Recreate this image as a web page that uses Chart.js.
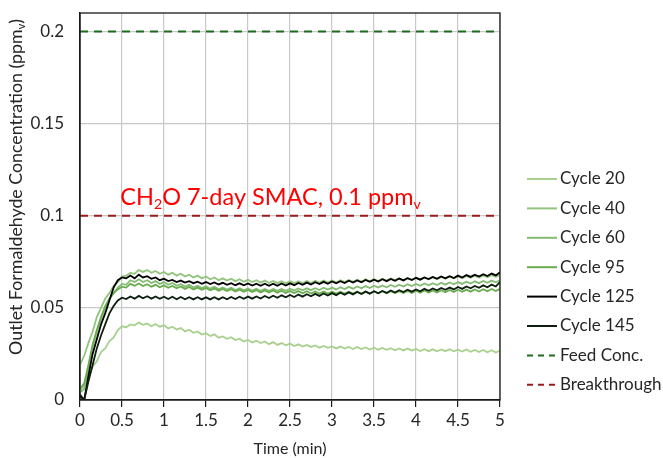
<!DOCTYPE html>
<html>
<head>
<meta charset="utf-8">
<script src="https://cdn.jsdelivr.net/npm/chart.js@4.4.1/dist/chart.umd.min.js"></script>
<style>
  html, body { margin: 0; padding: 0; background: #fff; }
  #wrap { width: 663px; height: 458px; }
</style>
</head>
<body>
<div id="wrap"><canvas id="breakChart" width="663" height="458"></canvas></div>
<script>
/* Outlet formaldehyde concentration over a 5-minute run, by sorbent cycle */

// sample times (min)
const timeMin = [
  0, 0.05, 0.1, 0.15, 0.2, 0.25, 0.3, 0.35, 0.4, 0.45,
  0.5, 0.55, 0.6, 0.65, 0.7, 0.75, 0.8, 0.85, 0.9, 0.95,
  1, 1.05, 1.1, 1.15, 1.2, 1.25, 1.3, 1.35, 1.4, 1.45,
  1.5, 1.55, 1.6, 1.65, 1.7, 1.75, 1.8, 1.85, 1.9, 1.95,
  2, 2.05, 2.1, 2.15, 2.2, 2.25, 2.3, 2.35, 2.4, 2.45,
  2.5, 2.55, 2.6, 2.65, 2.7, 2.75, 2.8, 2.85, 2.9, 2.95,
  3, 3.05, 3.1, 3.15, 3.2, 3.25, 3.3, 3.35, 3.4, 3.45,
  3.5, 3.55, 3.6, 3.65, 3.7, 3.75, 3.8, 3.85, 3.9, 3.95,
  4, 4.05, 4.1, 4.15, 4.2, 4.25, 4.3, 4.35, 4.4, 4.45,
  4.5, 4.55, 4.6, 4.65, 4.7, 4.75, 4.8, 4.85, 4.9, 4.95,
  5
];

// outlet concentration (ppmv) per cycle
const cycle20 = [
  0.005, 0.008, 0.013, 0.018, 0.021, 0.026, 0.028, 0.032, 0.034, 0.038,
  0.040, 0.0395, 0.041, 0.0405, 0.042, 0.0408, 0.0415, 0.040, 0.0412, 0.0398,
  0.0405, 0.0388, 0.0398, 0.0382, 0.039, 0.0372, 0.0381, 0.0365, 0.0372, 0.0355,
  0.0362, 0.0347, 0.0356, 0.0338, 0.0345, 0.0332, 0.0341, 0.0325, 0.0333, 0.0318,
  0.0326, 0.0312, 0.0322, 0.0309, 0.0318, 0.0303, 0.0314, 0.0299, 0.0309, 0.0297,
  0.0306, 0.0293, 0.0302, 0.029, 0.0299, 0.0288, 0.0296, 0.0284, 0.0293, 0.0283,
  0.0291, 0.028, 0.029, 0.0279, 0.0288, 0.0277, 0.0287, 0.0276, 0.0285, 0.0274,
  0.0284, 0.0273, 0.0282, 0.0272, 0.0281, 0.027, 0.028, 0.0269, 0.0279, 0.0268,
  0.0277, 0.0266, 0.0276, 0.0265, 0.0275, 0.0264, 0.0274, 0.0265, 0.0276, 0.0264,
  0.0273, 0.0263, 0.0274, 0.0262, 0.0272, 0.026, 0.0271, 0.0259, 0.027, 0.0258,
  0.0268
];
const cycle40 = [
  0.019, 0.024, 0.031, 0.037, 0.045, 0.050, 0.055, 0.058, 0.062, 0.064,
  0.067, 0.0675, 0.069, 0.0685, 0.0705, 0.0695, 0.0705, 0.069, 0.070, 0.0685,
  0.0695, 0.068, 0.069, 0.0675, 0.0685, 0.067, 0.068, 0.0665, 0.0675, 0.066,
  0.067, 0.0655, 0.0665, 0.065, 0.066, 0.0648, 0.0658, 0.0645, 0.0655, 0.0642,
  0.0652, 0.064, 0.065, 0.0637, 0.0648, 0.0635, 0.0646, 0.0634, 0.0645, 0.0633,
  0.0644, 0.0634, 0.0645, 0.0633, 0.0646, 0.0635, 0.0647, 0.0636, 0.0648, 0.0637,
  0.0649, 0.0638, 0.065, 0.064, 0.0651, 0.0641, 0.0653, 0.0643, 0.0655, 0.0644,
  0.0656, 0.0646, 0.0658, 0.0647, 0.0659, 0.0649, 0.0661, 0.065, 0.0662, 0.0652,
  0.0664, 0.0653, 0.0665, 0.0655, 0.0667, 0.0657, 0.0668, 0.0658, 0.067, 0.066,
  0.0671, 0.0661, 0.0673, 0.0663, 0.0674, 0.0665, 0.0676, 0.0666, 0.0677, 0.0668,
  0.0678
];
const cycle60 = [
  0.004, 0.006, 0.017, 0.029, 0.037, 0.044, 0.050, 0.055, 0.058, 0.061,
  0.063, 0.0625, 0.065, 0.064, 0.0655, 0.064, 0.065, 0.0635, 0.0645, 0.063,
  0.064, 0.0625, 0.0635, 0.062, 0.063, 0.0615, 0.0625, 0.061, 0.062, 0.0607,
  0.0617, 0.0604, 0.0614, 0.0601, 0.0611, 0.0599, 0.0609, 0.0597, 0.0607, 0.0595,
  0.0605, 0.0594, 0.0604, 0.0593, 0.0603, 0.0592, 0.0603, 0.0592, 0.0603, 0.0593,
  0.0604, 0.0594, 0.0605, 0.0595, 0.0606, 0.0596, 0.0607, 0.0597, 0.0609, 0.0599,
  0.061, 0.06, 0.0612, 0.0602, 0.0614, 0.0604, 0.0616, 0.0606, 0.0618, 0.0608,
  0.062, 0.061, 0.0622, 0.0612, 0.0624, 0.0614, 0.0626, 0.0616, 0.0628, 0.0618,
  0.063, 0.062, 0.0632, 0.0622, 0.0634, 0.0624, 0.0636, 0.0626, 0.0638, 0.0628,
  0.064, 0.063, 0.0642, 0.0632, 0.0644, 0.0634, 0.0646, 0.0636, 0.0648, 0.0639,
  0.065
];
const cycle95 = [
  0.006, 0.009, 0.019, 0.030, 0.038, 0.045, 0.051, 0.055, 0.058, 0.060,
  0.0615, 0.061, 0.063, 0.062, 0.0632, 0.0618, 0.0628, 0.0615, 0.0625, 0.0612,
  0.0622, 0.0609, 0.0619, 0.0606, 0.0616, 0.0603, 0.0613, 0.06, 0.061, 0.0598,
  0.0608, 0.0595, 0.0605, 0.0593, 0.0603, 0.0591, 0.0601, 0.0589, 0.0599, 0.0587,
  0.0597, 0.0586, 0.0596, 0.0584, 0.0595, 0.0583, 0.0594, 0.0582, 0.0593, 0.0581,
  0.0592, 0.058, 0.0591, 0.0579, 0.059, 0.0578, 0.0589, 0.0578, 0.0589, 0.0577,
  0.0588, 0.0577, 0.0588, 0.0577, 0.0588, 0.0577, 0.0589, 0.0578, 0.0589, 0.0578,
  0.059, 0.0579, 0.059, 0.0579, 0.0591, 0.058, 0.0591, 0.058, 0.0592, 0.0581,
  0.0593, 0.0582, 0.0594, 0.0583, 0.0595, 0.0584, 0.0596, 0.0585, 0.0597, 0.0586,
  0.0598, 0.0587, 0.0599, 0.0588, 0.06, 0.0589, 0.0601, 0.059, 0.0602, 0.0591,
  0.0603
];
const cycle125 = [
  0.002, 0.000, 0.013, 0.025, 0.033, 0.041, 0.047, 0.054, 0.061, 0.065,
  0.0665, 0.066, 0.0675, 0.066, 0.068, 0.0665, 0.0672, 0.0658, 0.0665, 0.065,
  0.0658, 0.0645, 0.0652, 0.064, 0.0648, 0.0637, 0.0645, 0.0634, 0.0642, 0.0631,
  0.064, 0.0629, 0.0638, 0.0627, 0.0636, 0.0625, 0.0634, 0.0623, 0.0633, 0.0622,
  0.0632, 0.0621, 0.0631, 0.062, 0.0631, 0.062, 0.0631, 0.062, 0.0632, 0.0621,
  0.0633, 0.0623, 0.0635, 0.0625, 0.0637, 0.0627, 0.0639, 0.0629, 0.0641, 0.0631,
  0.0643, 0.0633, 0.0645, 0.0635, 0.0647, 0.0637, 0.0649, 0.0639, 0.0651, 0.0641,
  0.0653, 0.0643, 0.0655, 0.0645, 0.0657, 0.0647, 0.0659, 0.0649, 0.0661, 0.0651,
  0.0663, 0.0653, 0.0665, 0.0656, 0.0668, 0.0658, 0.067, 0.066, 0.0672, 0.0662,
  0.0675, 0.0665, 0.0678, 0.0668, 0.068, 0.067, 0.0683, 0.0673, 0.0686, 0.0676,
  0.0693
];
const cycle145 = [
  0.003, 0.000, 0.010, 0.019, 0.028, 0.035, 0.041, 0.047, 0.051, 0.054,
  0.0555, 0.0548, 0.0562, 0.055, 0.0565, 0.0552, 0.0563, 0.055, 0.0562, 0.0549,
  0.056, 0.0548, 0.056, 0.0547, 0.0559, 0.0547, 0.0558, 0.0546, 0.0558, 0.0546,
  0.0557, 0.0546, 0.0558, 0.0546, 0.0558, 0.0547, 0.0559, 0.0548, 0.056, 0.0549,
  0.0561, 0.055, 0.0562, 0.0551, 0.0564, 0.0553, 0.0566, 0.0555, 0.0568, 0.0557,
  0.057, 0.0559, 0.0572, 0.0561, 0.0574, 0.0563, 0.0576, 0.0565, 0.0578, 0.0567,
  0.058, 0.0569, 0.0582, 0.0571, 0.0584, 0.0573, 0.0586, 0.0575, 0.0588, 0.0577,
  0.059, 0.0579, 0.0592, 0.0581, 0.0594, 0.0583, 0.0596, 0.0586, 0.0598, 0.0588,
  0.06, 0.059, 0.0603, 0.0593, 0.0605, 0.0595, 0.0608, 0.0598, 0.061, 0.06,
  0.0613, 0.0603, 0.0616, 0.0606, 0.0619, 0.0609, 0.0622, 0.0612, 0.0626, 0.0616,
  0.064
];

// reference levels
const refTime = [0, 5];
const feedConc = [0.2, 0.2];
const breakthrough = [0.1, 0.1];

const yTicks = [0, 0.05, 0.1, 0.15, 0.2];

const FONT = "Lato, 'Open Sans', sans-serif";
const TEXT = '#262626';

function pts(xs, ys) {
  return ys.map((v, i) => ({ x: xs[i], y: v }));
}

// plain number labels: 0, 0.05, 0.1, 1, 1.5 ...
const plain = v => String(Number(v.toFixed(3)));

const series = [
  { label: 'Cycle 20', data: pts(timeMin, cycle20), color: '#a9d08e' },
  { label: 'Cycle 40', data: pts(timeMin, cycle40), color: '#93c47d' },
  { label: 'Cycle 60', data: pts(timeMin, cycle60), color: '#84bb73' },
  { label: 'Cycle 95', data: pts(timeMin, cycle95), color: '#6aab4f' },
  { label: 'Cycle 125', data: pts(timeMin, cycle125), color: '#000000' },
  { label: 'Cycle 145', data: pts(timeMin, cycle145), color: '#0f1f0f' },
  { label: 'Feed Conc.', data: pts(refTime, feedConc), color: '#1d6b1d', dash: [8, 6] },
  { label: 'Breakthrough', data: pts(refTime, breakthrough), color: '#9b1c1c', dash: [8, 6] },
];

const datasets = series.map((s, i) => ({
  label: s.label,
  data: s.data,
  borderColor: s.color,
  backgroundColor: s.color,
  borderWidth: s.dash ? 2 : 1.8,
  borderDash: s.dash || [],
  pointRadius: 0,
  tension: 0,
  fill: false,
  order: series.length - i,   // later series paint on top
}));

// draws a run of text pieces; pieces flagged sub are smaller and lowered
function drawRich(ctx, parts, x, y, size) {
  let cx = x;
  parts.forEach(p => {
    const fs = p.sub ? size * 0.6 : size;
    ctx.font = fs + 'px ' + FONT;
    ctx.fillText(p.t, cx, p.sub ? y + size * 0.18 : y);
    cx += ctx.measureText(p.t).width;
  });
  return cx - x;
}

function richWidth(ctx, parts, size) {
  let w = 0;
  parts.forEach(p => {
    ctx.font = (p.sub ? size * 0.6 : size) + 'px ' + FONT;
    w += ctx.measureText(p.t).width;
  });
  return w;
}

const extras = {
  id: 'extras',
  afterDraw(chart) {
    const { ctx, chartArea: a, scales } = chart;
    ctx.save();

    // plot frame
    ctx.strokeStyle = '#1a1a1a';
    ctx.lineWidth = 1.3;
    ctx.strokeRect(a.left, a.top, a.right - a.left, a.bottom - a.top);

    // SMAC note above the breakthrough line
    ctx.fillStyle = '#ff0000';
    ctx.textBaseline = 'alphabetic';
    ctx.textAlign = 'left';
    drawRich(ctx, [
      { t: 'CH' }, { t: '2', sub: true }, { t: 'O 7-day SMAC, 0.1 ppm' }, { t: 'v', sub: true }
    ], scales.x.getPixelForValue(0.48), scales.y.getPixelForValue(0.1) - 11, 23.5);

    // y axis title
    const yParts = [{ t: 'Outlet Formaldehyde Concentration (ppm' }, { t: 'v', sub: true }, { t: ')' }];
    ctx.fillStyle = TEXT;
    ctx.translate(22, 187);
    ctx.rotate(-Math.PI / 2);
    const w = richWidth(ctx, yParts, 17.8);
    drawRich(ctx, yParts, -w / 2, 0, 17.8);
    ctx.restore();

    // legend
    ctx.save();
    ctx.font = '17px ' + FONT;
    ctx.textBaseline = 'middle';
    chart.data.datasets.forEach((ds, i) => {
      const y = 179 + i * 29.4;
      ctx.strokeStyle = ds.borderColor;
      ctx.lineWidth = 2;
      ctx.setLineDash(ds.borderDash.length ? [6, 5] : []);
      ctx.beginPath();
      ctx.moveTo(527, y);
      ctx.lineTo(557, y);
      ctx.stroke();
      ctx.fillStyle = TEXT;
      ctx.fillText(ds.label, 560, y);
    });
    ctx.restore();
  }
};

new Chart(document.getElementById('breakChart'), {
  type: 'line',
  data: { datasets },
  options: {
    responsive: false,
    animation: false,
    layout: { padding: { top: 13, right: 163, left: 0, bottom: 0 } },
    plugins: {
      legend: { display: false },
      tooltip: { enabled: false },
    },
    scales: {
      x: {
        type: 'linear',
        min: 0,
        max: 5,
        ticks: { stepSize: 0.5, color: TEXT, font: { family: FONT, size: 17 }, padding: 3, maxRotation: 0, callback: plain },
        grid: { color: '#c8c8c8', lineWidth: 1.2, tickColor: '#1a1a1a', tickLength: 7 },
        border: { color: '#1a1a1a', width: 1.3 },
        title: { display: true, text: 'Time (min)', color: TEXT, font: { family: FONT, size: 16 }, padding: { top: 0, bottom: 0 } },
        afterFit(s) { s.height = 58; s.paddingLeft = 0; s.paddingRight = 0; },
      },
      y: {
        min: 0,
        max: 0.21,
        afterBuildTicks(s) { s.ticks = yTicks.map(v => ({ value: v })); },
        ticks: { color: TEXT, font: { family: FONT, size: 17 }, padding: 16, callback: plain },
        grid: { color: '#c8c8c8', lineWidth: 1.2, drawTicks: false },
        border: { color: '#1a1a1a', width: 1.3 },
        // the plot box is pinned by the layout padding, not by label overhang
        afterFit(s) { s.width = 80; s.paddingTop = 0; s.paddingBottom = 0; },
      },
    },
  },
  plugins: [extras],
});
</script>
</body>
</html>
